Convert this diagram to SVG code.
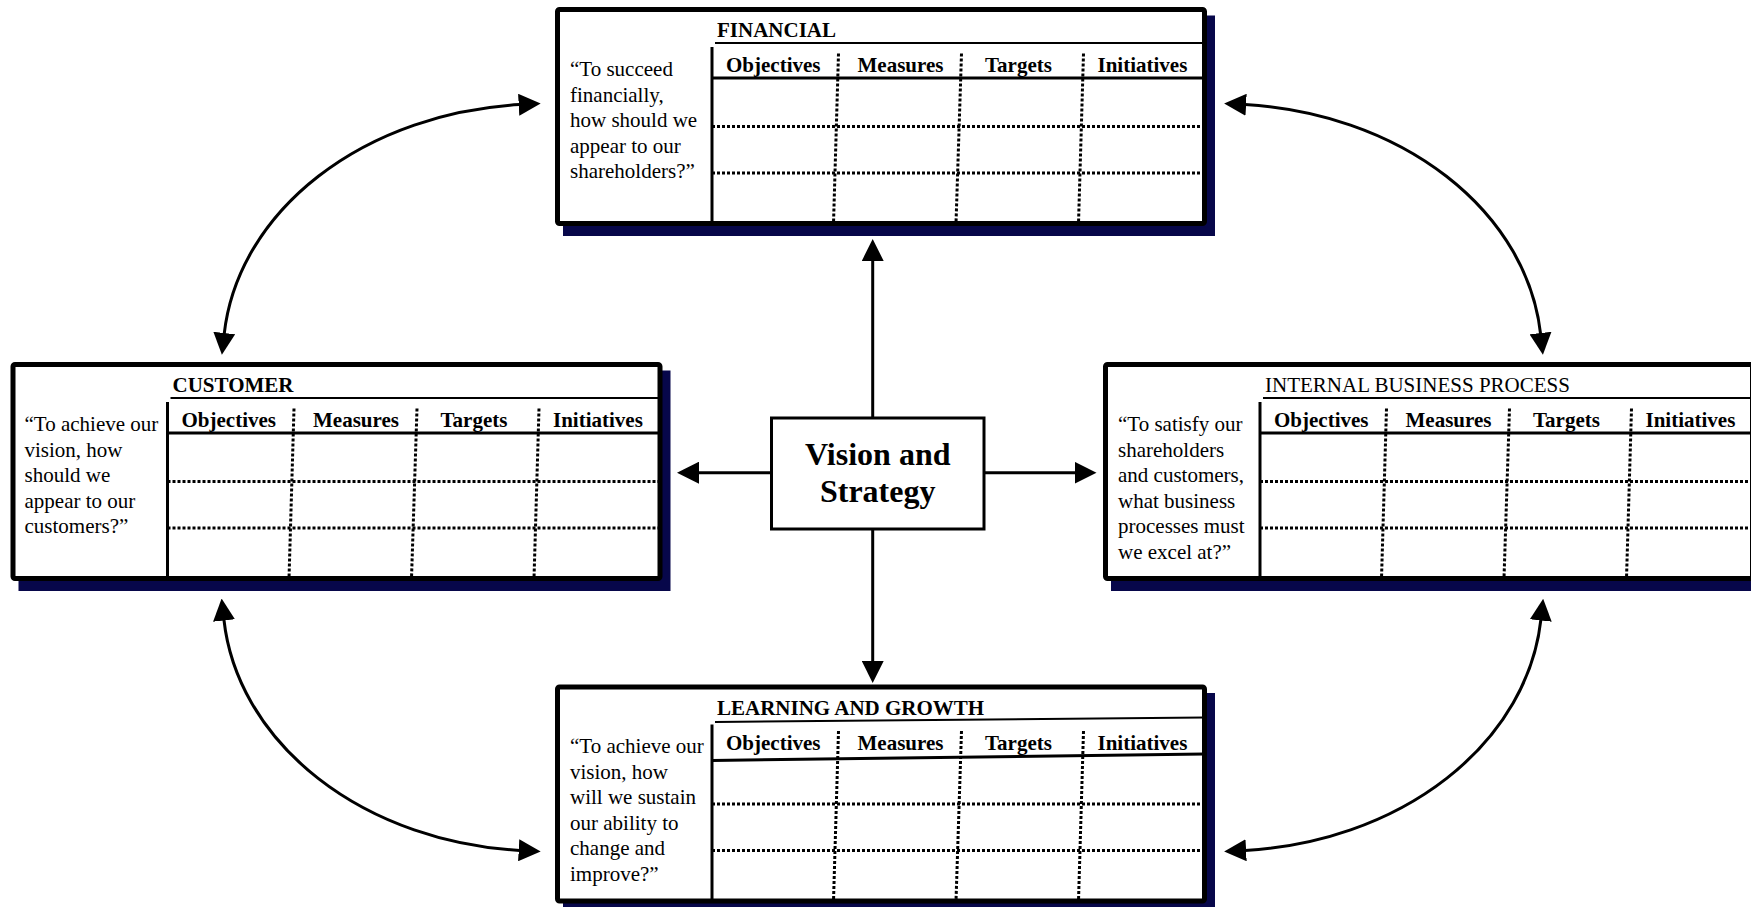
<svg xmlns="http://www.w3.org/2000/svg" width="1751" height="907" viewBox="0 0 1751 907">
  <defs>
    <style>
      .shadow { fill: #07074a; }
      .frame { fill: #ffffff; stroke: #000000; stroke-width: 5; }
      .solid { stroke: #000000; stroke-width: 3; fill: none; }
      .thin { stroke: #000000; stroke-width: 2; fill: none; }
      .dots { stroke: #000000; stroke-width: 3; stroke-dasharray: 3 2; fill: none; }
      .title { font-family: "Liberation Serif", "Times New Roman", serif; font-size: 21px; font-weight: bold; fill: #000000; }
      .title-plain { font-family: "Liberation Serif", "Times New Roman", serif; font-size: 21px; fill: #000000; }
      .head { font-family: "Liberation Serif", "Times New Roman", serif; font-size: 21px; font-weight: bold; fill: #000000; }
      .question { font-family: "Liberation Serif", "Times New Roman", serif; font-size: 21px; fill: #000000; }
      .vision { font-family: "Liberation Serif", "Times New Roman", serif; font-size: 32px; font-weight: bold; fill: #000000; text-anchor: middle; }
      .link { stroke: #000000; stroke-width: 3; fill: none; marker-end: url(#ah); }
      .link2 { stroke: #000000; stroke-width: 3; fill: none; marker-start: url(#ah); marker-end: url(#ah); }
    </style>
    <marker id="ah" viewBox="0 0 22 22" refX="1" refY="11" markerWidth="22" markerHeight="22" markerUnits="userSpaceOnUse" orient="auto-start-reverse">
      <path d="M0,0 L22,11 L0,22 Z" fill="#000000"/>
    </marker>
    <!-- shared scorecard table: columns, rows and header labels -->
    <g id="grid">
      <line class="solid" x1="154.5" y1="37.5" x2="154.5" y2="214"/>
      <line class="dots" x1="154.5" y1="117" x2="647" y2="117"/>
      <line class="dots" x1="154.5" y1="163.5" x2="647" y2="163.5"/>
      <line class="dots" x1="281" y1="44" x2="276" y2="214"/>
      <line class="dots" x1="404" y1="44" x2="398.5" y2="214"/>
      <line class="dots" x1="526" y1="44" x2="521" y2="214"/>
    </g>
    <g id="heads">
      <text class="head" x="168.5">Objectives</text>
      <text class="head" x="300">Measures</text>
      <text class="head" x="427.5">Targets</text>
      <text class="head" x="540">Initiatives</text>
    </g>
  </defs>

  <rect width="1751" height="907" fill="#ffffff"/>

  <!-- connectors -->
  <g id="connectors">
    <line class="link" x1="872.7" y1="418" x2="872.7" y2="260"/>
    <line class="link" x1="872.7" y1="529.5" x2="872.7" y2="662"/>
    <line class="link" x1="771.5" y1="472.7" x2="698" y2="472.7"/>
    <line class="link" x1="984" y1="472.7" x2="1075.5" y2="472.7"/>
    <path class="link2" d="M519.7,104.6 A319,252 0 0 0 224.2,334"/>
    <path class="link2" d="M1245.1,104.6 A319,252 0 0 1 1540.6,334"/>
    <path class="link2" d="M223.9,619.5 A319,253.5 0 0 0 519.7,850.4"/>
    <path class="link2" d="M1540.9,619.5 A319,253.5 0 0 1 1245.1,850.4"/>
  </g>

  <!-- financial perspective -->
  <g id="financial" transform="translate(557.5,9.5)">
    <rect class="shadow" x="5.5" y="6" width="652" height="220.5"/>
    <rect class="frame" x="0" y="0" width="647" height="214" rx="2"/>
    <line class="thin" x1="157.5" y1="33.5" x2="647" y2="33.5"/>
    <line class="solid" x1="154.5" y1="68.5" x2="647" y2="68.5"/>
    <use href="#grid"/>
    <text class="title" x="159.5" y="27.5">FINANCIAL</text>
    <use href="#heads" y="62"/>
    <text class="question" x="12.5" y="66.5">
      <tspan x="12.5">“To succeed</tspan>
      <tspan x="12.5" dy="25.5">financially,</tspan>
      <tspan x="12.5" dy="25.5">how should we</tspan>
      <tspan x="12.5" dy="25.5">appear to our</tspan>
      <tspan x="12.5" dy="25.5">shareholders?”</tspan>
    </text>
  </g>

  <!-- customer perspective -->
  <g id="customer" transform="translate(13,364.5)">
    <rect class="shadow" x="5.5" y="6" width="652" height="220.5"/>
    <rect class="frame" x="0" y="0" width="647" height="214" rx="2"/>
    <line class="thin" x1="157.5" y1="33.5" x2="647" y2="33.5"/>
    <line class="solid" x1="154.5" y1="68.5" x2="647" y2="68.5"/>
    <use href="#grid"/>
    <text class="title" x="159.5" y="27.5">CUSTOMER</text>
    <use href="#heads" y="62"/>
    <text class="question" x="11.5" y="66.5">
      <tspan x="11.5">“To achieve our</tspan>
      <tspan x="11.5" dy="25.5">vision, how</tspan>
      <tspan x="11.5" dy="25.5">should we</tspan>
      <tspan x="11.5" dy="25.5">appear to our</tspan>
      <tspan x="11.5" dy="25.5">customers?”</tspan>
    </text>
  </g>

  <!-- internal business process perspective -->
  <g id="internal" transform="translate(1105.5,364.5)">
    <rect class="shadow" x="5.5" y="6" width="652" height="220.5"/>
    <rect class="frame" x="0" y="0" width="647" height="214" rx="2"/>
    <line class="thin" x1="157.5" y1="33.5" x2="647" y2="33.5"/>
    <line class="solid" x1="154.5" y1="68.5" x2="647" y2="68.5"/>
    <use href="#grid"/>
    <text class="title-plain" x="159.5" y="27.5">INTERNAL BUSINESS PROCESS</text>
    <use href="#heads" y="62"/>
    <text class="question" x="12.5" y="66.5">
      <tspan x="12.5">“To satisfy our</tspan>
      <tspan x="12.5" dy="25.5">shareholders</tspan>
      <tspan x="12.5" dy="25.5">and customers,</tspan>
      <tspan x="12.5" dy="25.5">what business</tspan>
      <tspan x="12.5" dy="25.5">processes must</tspan>
      <tspan x="12.5" dy="25.5">we excel at?”</tspan>
    </text>
  </g>

  <!-- learning and growth perspective -->
  <g id="learning" transform="translate(557.5,687)">
    <rect class="shadow" x="5.5" y="6" width="652" height="220.5"/>
    <rect class="frame" x="0" y="0" width="647" height="214" rx="2"/>
    <line class="thin" x1="157.5" y1="35" x2="647" y2="30.5"/>
    <line class="solid" x1="154.5" y1="73.5" x2="647" y2="67"/>
    <use href="#grid"/>
    <text class="title" x="159.5" y="28">LEARNING AND GROWTH</text>
    <use href="#heads" y="63"/>
    <text class="question" x="12.5" y="66">
      <tspan x="12.5">“To achieve our</tspan>
      <tspan x="12.5" dy="25.5">vision, how</tspan>
      <tspan x="12.5" dy="25.5">will we sustain</tspan>
      <tspan x="12.5" dy="25.5">our ability to</tspan>
      <tspan x="12.5" dy="25.5">change and</tspan>
      <tspan x="12.5" dy="25.5">improve?”</tspan>
    </text>
  </g>

  <!-- central hub -->
  <g id="vision">
    <rect x="771.5" y="418" width="212.5" height="111" fill="#ffffff" stroke="#000000" stroke-width="3"/>
    <text class="vision" x="877.7" y="465">Vision and</text>
    <text class="vision" x="877.7" y="501.5">Strategy</text>
  </g>
</svg>
